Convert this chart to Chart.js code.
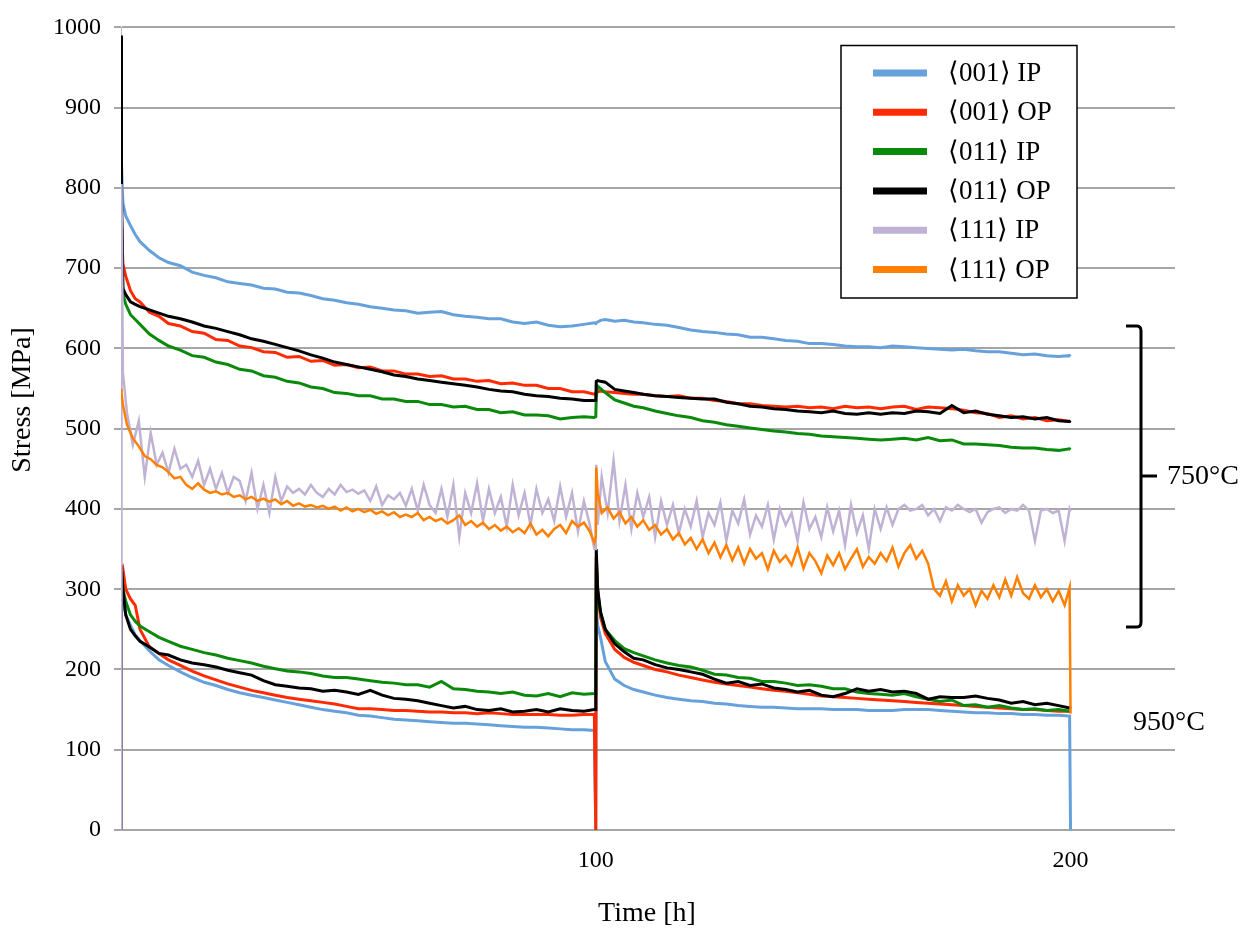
<!DOCTYPE html>
<html>
<head>
<meta charset="utf-8">
<script src="https://cdn.jsdelivr.net/npm/chart.js@4.4.1/dist/chart.umd.min.js"></script>
<style>
    body { margin: 0; background: #fff; }
    canvas { display: block; }
</style>
</head>
<body>
<canvas id="stresschart" width="1258" height="930"></canvas>
<script>
// time grid, first block (0-100 h) and second block (100-200 h)
const hoursA = [0, 0.1, 0.4, 1, 2, 3, 4, 6, 8, 10,
    12.5, 15, 17.5, 20, 22.5, 25, 27.5, 30, 32.5, 35,
    37.5, 40, 42.5, 45, 47.5, 50, 52.5, 55, 57.5, 60,
    62.5, 65, 67.5, 70, 72.5, 75, 77.5, 80, 82.5, 85,
    87.5, 90, 92.5, 95, 97.5, 99.7];
const hoursB = [100, 100.1, 100.4, 101, 102, 104, 106, 108, 110, 112.5,
    115, 117.5, 120, 122.5, 125, 127.5, 130, 132.5, 135, 137.5,
    140, 142.5, 145, 147.5, 150, 152.5, 155, 157.5, 160, 162.5,
    165, 167.5, 170, 172.5, 175, 177.5, 180, 182.5, 185, 187.5,
    190, 192.5, 195, 197.5, 199.8, 200];

// finer grid for the noisy <111> curves
const hours111A = [0, 0.1, 0.4,
    1.25, 2.5, 3.75, 5, 6.25, 7.5, 8.75, 10,
    11.25, 12.5, 13.75, 15, 16.25, 17.5, 18.75, 20,
    21.25, 22.5, 23.75, 25, 26.25, 27.5, 28.75, 30,
    31.25, 32.5, 33.75, 35, 36.25, 37.5, 38.75, 40,
    41.25, 42.5, 43.75, 45, 46.25, 47.5, 48.75, 50,
    51.25, 52.5, 53.75, 55, 56.25, 57.5, 58.75, 60,
    61.25, 62.5, 63.75, 65, 66.25, 67.5, 68.75, 70,
    71.25, 72.5, 73.75, 75, 76.25, 77.5, 78.75, 80,
    81.25, 82.5, 83.75, 85, 86.25, 87.5, 88.75, 90,
    91.25, 92.5, 93.75, 95, 96.25, 97.5, 98.75,
    99.7];
const hours111B = [100, 100.1, 100.4,
    101.25, 102.5, 103.75, 105, 106.25, 107.5, 108.75, 110,
    111.25, 112.5, 113.75, 115, 116.25, 117.5, 118.75, 120,
    121.25, 122.5, 123.75, 125, 126.25, 127.5, 128.75, 130,
    131.25, 132.5, 133.75, 135, 136.25, 137.5, 138.75, 140,
    141.25, 142.5, 143.75, 145, 146.25, 147.5, 148.75, 150,
    151.25, 152.5, 153.75, 155, 156.25, 157.5, 158.75, 160,
    161.25, 162.5, 163.75, 165, 166.25, 167.5, 168.75, 170,
    171.25, 172.5, 173.75, 175, 176.25, 177.5, 178.75, 180,
    181.25, 182.5, 183.75, 185, 186.25, 187.5, 188.75, 190,
    191.25, 192.5, 193.75, 195, 196.25, 197.5, 198.75,
    199.8, 200];

const seriesLabels = ['\u27E8001\u27E9 IP', '\u27E8001\u27E9 OP', '\u27E8011\u27E9 IP', '\u27E8011\u27E9 OP', '\u27E8111\u27E9 IP', '\u27E8111\u27E9 OP'];
const seriesColors = ['#66a1dc', '#ff2a00', '#0a8a0a', '#000000', '#c0b2d4', '#ff8000'];

const yTicks = [0, 100, 200, 300, 400, 500, 600, 700, 800, 900, 1000];
const xTicks = [100, 200];

// 750°C curves
const ip001_750A = [858, 830, 781, 765, 753, 742, 733, 722, 713, 707,
    703, 695, 691, 688, 683, 681, 679, 675, 674, 670,
    669, 666, 662, 660, 657, 655, 652, 650, 648, 647,
    644, 645, 646, 642, 640, 639, 637, 637, 633, 631,
    633, 629, 627, 628, 630, 632];
const ip001_750B = [631, 632, 633, 635, 636, 634, 635, 633, 632, 630,
    629, 626, 623, 621, 620, 618, 617, 614, 614, 612,
    610, 609, 606, 606, 605, 603, 602, 602, 601, 603,
    602, 601, 600, 599, 598, 599, 597, 596, 596, 594,
    592, 593, 591, 590, 591, 590];
const op001_750A = [782, 760, 705, 690, 672, 662, 658, 645, 640, 631,
    628, 621, 619, 611, 610, 603, 601, 596, 595, 589,
    590, 584, 585, 579, 580, 576, 577, 572, 572, 568,
    568, 565, 566, 562, 562, 559, 560, 556, 557, 554,
    554, 550, 550, 546, 546, 543];
const op001_750B = [544, 545, 546, 547, 546, 545, 544, 543, 543, 541,
    540, 541, 538, 538, 535, 534, 531, 531, 529, 528,
    527, 528, 526, 527, 525, 528, 526, 527, 525, 527,
    528, 524, 527, 526, 525, 523, 520, 519, 514, 516,
    512, 514, 510, 511, 509, 509];
const ip011_750A = [830, 760, 668, 655, 642, 636, 630, 618, 610, 603,
    598, 591, 589, 583, 580, 574, 572, 566, 564, 559,
    557, 552, 550, 545, 544, 541, 541, 537, 537, 534,
    534, 530, 530, 527, 528, 524, 524, 520, 521, 517,
    517, 516, 512, 514, 515, 514];
const ip011_750B = [515, 540, 553, 550, 545, 536, 532, 528, 526, 522,
    519, 516, 514, 510, 508, 505, 503, 501, 499, 497,
    496, 494, 493, 491, 490, 489, 488, 487, 486, 487,
    488, 486, 489, 485, 486, 481, 481, 480, 479, 477,
    476, 476, 474, 473, 475, 474];
const op011_750A = [990, 800, 675, 667, 658, 655, 652, 648, 644, 640,
    637, 633, 628, 625, 621, 617, 612, 609, 605, 601,
    597, 592, 588, 583, 580, 577, 574, 571, 567, 565,
    562, 560, 558, 556, 554, 552, 549, 547, 546, 543,
    541, 540, 538, 537, 535, 535];
const op011_750B = [535, 559, 560, 559, 558, 549, 547, 545, 543, 541,
    540, 539, 538, 537, 537, 533, 531, 528, 527, 525,
    524, 522, 521, 520, 522, 519, 518, 520, 518, 520,
    519, 522, 521, 519, 529, 520, 522, 518, 516, 514,
    515, 512, 514, 510, 509, 510];
const ip111_750A = [0, 805, 570,
    520, 480, 510, 440, 495, 455, 470, 445,
    475, 450, 455, 440, 460, 430, 450, 425,
    445, 420, 440, 435, 410, 445, 400, 430,
    395, 440, 410, 428, 420, 425, 418, 430,
    420, 415, 425, 418, 430, 421, 424, 419,
    423, 410, 428, 405, 417, 412, 420, 404,
    425, 398, 430, 405, 395, 425, 390, 430,
    365, 420, 395, 432, 385, 425, 395, 415,
    378, 430, 392, 420, 380, 425, 395, 412,
    385, 428, 390, 420, 372, 410, 380,
    350];
const ip111_750B = [350, 455, 380,
    440, 395, 460, 385, 430, 375, 420, 390,
    415, 365, 410, 380, 405, 370, 400, 378,
    410, 365, 395, 380, 408, 360, 398, 382,
    412, 368, 392, 378, 405, 362, 400, 380,
    395, 360, 408, 375, 390, 365, 402, 372,
    398, 355, 405, 370, 392, 350, 400, 375,
    402, 380, 400, 405, 398, 400, 405, 392,
    400, 385, 402, 398, 405, 400, 396, 400,
    383, 396, 400, 402, 395, 400, 398, 405,
    398, 360, 398, 400, 395, 398, 360,
    400, 397];
const op111_750A = [550, 545, 530,
    505, 488, 478, 466, 462, 455, 452, 446,
    438, 440, 430, 425, 432, 424, 420, 422,
    418, 420, 415, 417, 412, 415, 410, 413,
    409, 412, 406, 410, 404, 407, 403, 405,
    402, 404, 400, 403, 398, 402, 397, 400,
    396, 399, 394, 397, 392, 396, 390, 393,
    390, 395, 386, 390, 385, 388, 382, 386,
    392, 380, 385, 378, 383, 375, 380, 373,
    378, 371, 376, 370, 382, 368, 374, 366,
    375, 380, 370, 385, 378, 383, 372,
    358];
const op111_750B = [365, 452, 420,
    395, 402, 388, 396, 382, 390, 378, 386,
    374, 380, 368, 375, 362, 370, 356, 364,
    350, 362, 345, 358, 340, 355, 336, 352,
    332, 350, 338, 345, 325, 348, 334, 342,
    330, 352, 326, 345, 335, 320, 342, 330,
    345, 325, 338, 350, 328, 340, 332, 345,
    335, 352, 328, 345, 355, 338, 348, 332,
    300, 292, 310, 285, 305, 292, 300, 280,
    298, 288, 305, 290, 312, 292, 315, 295,
    288, 305, 290, 300, 285, 298, 280,
    302, 145];

// 950°C curves
const ip001_950A = [0, 300, 285, 268, 255, 243, 236, 223, 212, 205,
    197, 190, 184, 180, 175, 171, 168, 165, 162, 159,
    156, 153, 150, 148, 146, 143, 142, 140, 138, 137,
    136, 135, 134, 133, 133, 132, 131, 130, 129, 128,
    128, 127, 126, 125, 125, 124];
const ip001_950B = [0, 275, 255, 240, 210, 188, 180, 175, 172, 168,
    165, 163, 161, 160, 158, 157, 155, 154, 153, 153,
    152, 151, 151, 151, 150, 150, 150, 149, 149, 149,
    150, 150, 150, 149, 148, 147, 146, 146, 145, 145,
    144, 144, 143, 143, 142, 0];
const op001_950A = [0, 320, 325, 300, 288, 280, 250, 228, 220, 212,
    205, 198, 192, 187, 182, 178, 174, 171, 168, 165,
    163, 161, 159, 157, 154, 151, 151, 150, 149, 149,
    148, 147, 147, 146, 146, 145, 146, 145, 144, 144,
    144, 144, 143, 143, 144, 144];
const op001_950B = [0, 340, 300, 265, 245, 225, 215, 209, 205, 200,
    197, 193, 190, 187, 184, 182, 180, 178, 176, 174,
    173, 171, 169, 167, 166, 165, 164, 163, 162, 161,
    160, 159, 158, 157, 156, 155, 154, 153, 152, 151,
    150, 150, 149, 148, 148, 148];
const ip011_950A = [0, 320, 300, 285, 268, 260, 254, 247, 240, 235,
    229, 225, 221, 218, 214, 211, 208, 204, 201, 198,
    197, 195, 192, 190, 190, 188, 186, 184, 183, 181,
    181, 178, 185, 176, 175, 173, 172, 170, 172, 168,
    167, 170, 166, 171, 169, 170];
const ip011_950B = [170, 330, 295, 270, 250, 236, 226, 221, 217, 212,
    208, 205, 203, 199, 194, 193, 190, 189, 185, 185,
    183, 180, 181, 179, 176, 176, 172, 170, 169, 168,
    170, 166, 163, 160, 162, 155, 156, 153, 155, 152,
    150, 151, 149, 150, 148, 148];
const op011_950A = [0, 330, 300, 268, 250, 242, 235, 228, 220, 218,
    212, 208, 206, 203, 199, 196, 193, 186, 181, 179,
    177, 176, 173, 174, 172, 169, 174, 168, 164, 163,
    161, 158, 155, 152, 154, 150, 149, 151, 147, 148,
    150, 147, 151, 149, 148, 150];
const op011_950B = [150, 350, 300, 272, 250, 232, 222, 214, 212, 206,
    202, 200, 197, 194, 188, 183, 185, 180, 182, 177,
    175, 172, 174, 168, 166, 170, 176, 173, 175, 172,
    173, 170, 163, 166, 165, 165, 167, 164, 162, 158,
    160, 156, 158, 155, 152, 154];

const FONT = "'Liberation Serif', 'Times New Roman', serif";

function points(hA, a, hB, b) {
    const pts = hA.map((h, i) => ({ x: h, y: a[i] }));
    return pts.concat(hB.map((h, i) => ({ x: h, y: b[i] })));
}

function makeDataset(label, index, a, b, fine) {
    return {
        label: label,
        data: fine ? points(hours111A, a, hours111B, b) : points(hoursA, a, hoursB, b),
        borderColor: seriesColors[index],
        backgroundColor: seriesColors[index],
        borderWidth: fine ? 2.5 : 3,
        pointRadius: 0,
        tension: 0,
        order: 6 - index   // later series sit on top, like the original
    };
}

const datasets = [
    makeDataset(seriesLabels[0] + ' 750', 0, ip001_750A, ip001_750B),
    makeDataset(seriesLabels[0] + ' 950', 0, ip001_950A, ip001_950B),
    makeDataset(seriesLabels[1] + ' 750', 1, op001_750A, op001_750B),
    makeDataset(seriesLabels[1] + ' 950', 1, op001_950A, op001_950B),
    makeDataset(seriesLabels[2] + ' 750', 2, ip011_750A, ip011_750B),
    makeDataset(seriesLabels[2] + ' 950', 2, ip011_950A, ip011_950B),
    makeDataset(seriesLabels[3] + ' 750', 3, op011_750A, op011_750B),
    makeDataset(seriesLabels[3] + ' 950', 3, op011_950A, op011_950B),
    makeDataset(seriesLabels[4] + ' 750', 4, ip111_750A, ip111_750B, true),
    makeDataset(seriesLabels[5] + ' 750', 5, op111_750A, op111_750B, true)
];

// legend box, bracket and temperature labels
const decorPlugin = {
    id: 'decor',
    afterDraw(chart) {
        const ctx = chart.ctx;
        ctx.save();

        // legend
        ctx.fillStyle = '#fff';
        ctx.fillRect(841, 45, 236, 253);
        ctx.strokeStyle = '#000';
        ctx.lineWidth = 1.5;
        ctx.strokeRect(841, 45.5, 236, 252.5);
        ctx.font = '27px ' + FONT;
        ctx.textBaseline = 'middle';
        ctx.textAlign = 'left';
        seriesLabels.forEach((label, i) => {
            const y = 73 + i * 39.3;
            ctx.strokeStyle = seriesColors[i];
            ctx.lineWidth = 7;
            ctx.beginPath();
            ctx.moveTo(873, y);
            ctx.lineTo(927, y);
            ctx.stroke();
            ctx.fillStyle = '#000';
            ctx.fillText(label, 948, y + 1);
        });

        // bracket for 750°C group
        ctx.strokeStyle = '#000';
        ctx.lineWidth = 3;
        ctx.lineJoin = 'round';
        ctx.beginPath();
        ctx.moveTo(1126, 326);
        ctx.lineTo(1137, 326);
        ctx.quadraticCurveTo(1141, 326, 1141, 331);
        ctx.lineTo(1141, 622);
        ctx.quadraticCurveTo(1141, 627, 1137, 627);
        ctx.lineTo(1126, 627);
        ctx.stroke();
        ctx.beginPath();
        ctx.moveTo(1141, 476);
        ctx.lineTo(1157, 476);
        ctx.stroke();

        ctx.fillStyle = '#000';
        ctx.font = '28px ' + FONT;
        ctx.fillText('750\u00B0C', 1167, 477);
        ctx.fillText('950\u00B0C', 1133, 723);

        // axis titles
        ctx.textAlign = 'center';
        ctx.fillText('Time [h]', 647, 914);
        ctx.translate(23, 400);
        ctx.rotate(-Math.PI / 2);
        ctx.fillText('Stress [MPa]', 0, 0);

        ctx.restore();
    }
};

new Chart(document.getElementById('stresschart'), {
    type: 'line',
    data: { datasets: datasets },
    options: {
        responsive: false,
        animation: false,
        devicePixelRatio: 1,
        layout: { padding: { top: 20, right: 83, left: 0, bottom: 0 } },
        plugins: {
            legend: { display: false },
            tooltip: { enabled: false }
        },
        scales: {
            x: {
                type: 'linear',
                min: 0,
                max: 222,
                afterFit: (scale) => { scale.height = 100; },
                afterBuildTicks: (scale) => {
                    scale.ticks = xTicks.map(v => ({ value: v }));
                },
                ticks: {
                    color: '#000',
                    font: { family: FONT, size: 24 },
                    padding: 16,
                    maxRotation: 0,
                    callback: (value) => String(value)
                },
                grid: { display: false, drawTicks: false },
                border: { display: false }
            },
            y: {
                min: 0,
                max: 1000,
                afterFit: (scale) => { scale.width = 121; },
                afterBuildTicks: (scale) => {
                    scale.ticks = yTicks.map(v => ({ value: v }));
                },
                ticks: {
                    color: '#000',
                    font: { family: FONT, size: 24 },
                    padding: 13,
                    callback: (value) => String(value)
                },
                grid: {
                    color: '#a6a6a6',
                    lineWidth: 2,
                    tickLength: 7,
                    tickColor: '#a6a6a6'
                },
                border: { display: true, color: '#b8b8b8', width: 1 }
            }
        }
    },
    plugins: [decorPlugin]
});
</script>
</body>
</html>
